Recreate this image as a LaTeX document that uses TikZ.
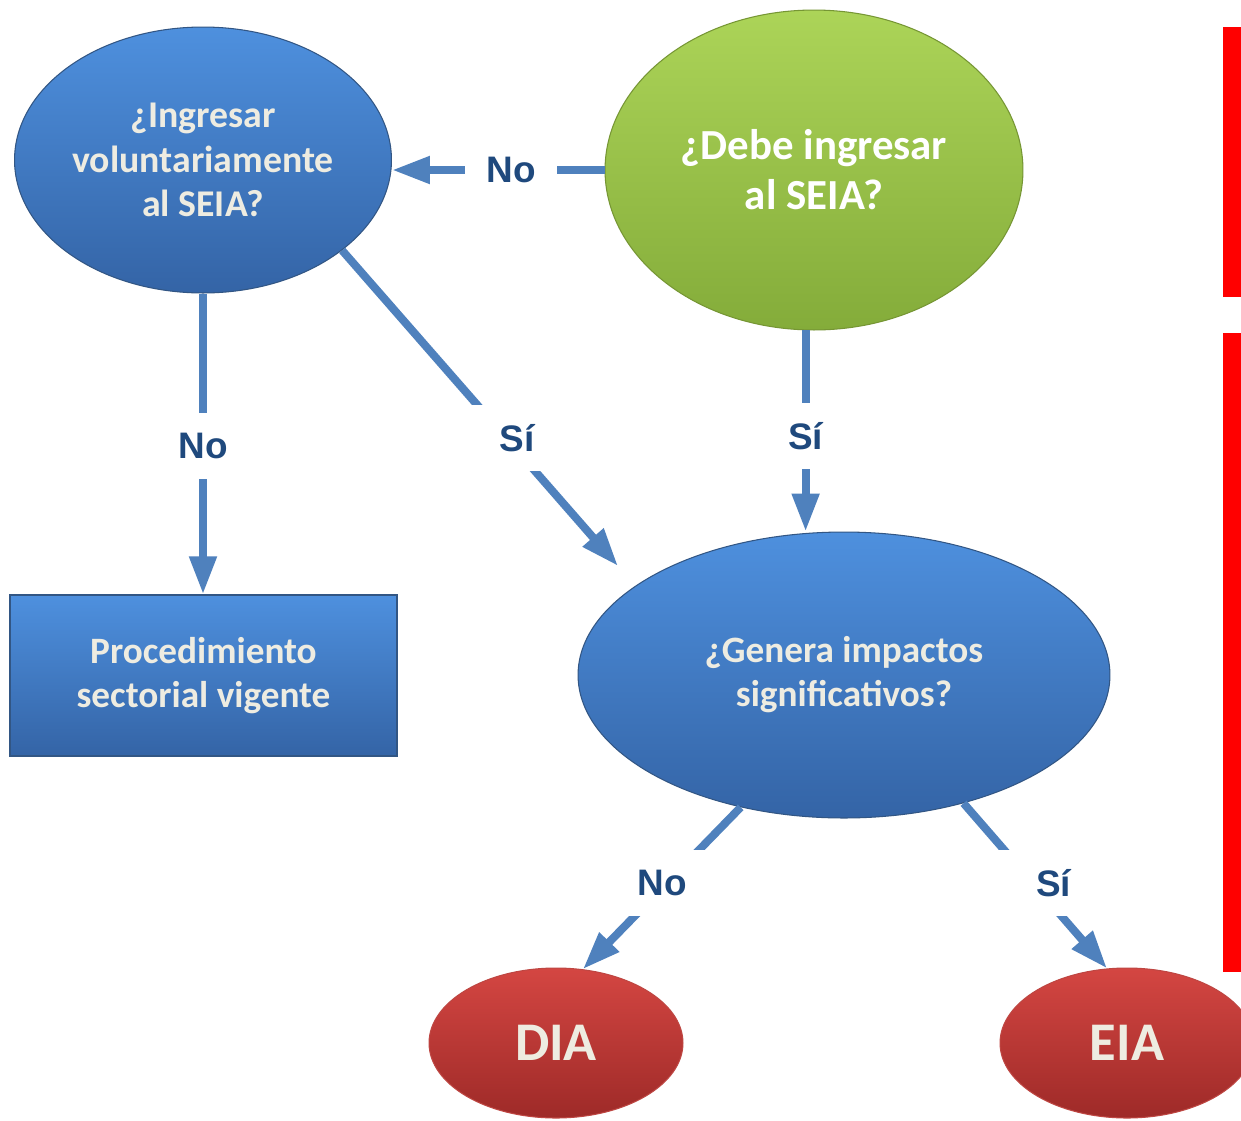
\documentclass[tikz,border=0pt]{standalone}
\usepackage{fontspec}
\setmainfont{Carlito}
\newfontfamily\answerfont{Liberation Sans}
\usetikzlibrary{shapes.geometric, arrows.meta}

\definecolor{ovalBlueTop}{RGB}{78,144,222}
\definecolor{ovalBlueBottom}{RGB}{52,100,166}
\definecolor{ovalBlueEdge}{RGB}{50,86,132}
\definecolor{ovalGreenTop}{RGB}{172,212,88}
\definecolor{ovalGreenBottom}{RGB}{132,172,58}
\definecolor{ovalGreenEdge}{RGB}{118,150,52}
\definecolor{ovalRedTop}{RGB}{212,70,66}
\definecolor{ovalRedBottom}{RGB}{158,42,40}
\definecolor{ovalRedEdge}{RGB}{190,70,66}
\definecolor{paleText}{RGB}{238,236,225}
\definecolor{flowBlue}{RGB}{79,129,189}
\definecolor{answerBlue}{RGB}{31,73,125}

\begin{document}
\begin{tikzpicture}[x=0.02cm, y=-0.02cm]
        \tikzset{
            ovalText/.style={
                font=\bfseries\fontsize{21.5}{25.5}\selectfont,
                text=paleText,
                align=center,
                inner sep=0pt
            },
            blueOval/.style={ellipse, ovalText, top color=ovalBlueTop, bottom color=ovalBlueBottom, draw=ovalBlueEdge, line width=0.6pt},
            greenOval/.style={ellipse, ovalText, text=white, top color=ovalGreenTop, bottom color=ovalGreenBottom, draw=ovalGreenEdge, line width=0.6pt},
            redOval/.style={ellipse, ovalText, font=\bfseries\fontsize{31}{36}\selectfont, top color=ovalRedTop, bottom color=ovalRedBottom, draw=ovalRedEdge, line width=0.6pt},
            blueBox/.style={rectangle, ovalText, top color=ovalBlueTop, bottom color=ovalBlueBottom, draw=ovalBlueEdge, line width=0.8pt},
            flow/.style={draw=flowBlue, line width=0.16cm, -{Triangle[length=0.76cm, width=0.52cm]}},
            answer/.style={
                font=\answerfont\bfseries\fontsize{21}{25}\selectfont,
                text=answerBlue,
                fill=white,
                inner sep=0pt,
                minimum width=1.84cm,
                minimum height=1.32cm
            },
            wideAnswer/.style={answer, minimum width=2.8cm}
        }

        \useasboundingbox[fill=white] (0,0) rectangle (1241,1120);

        \node[blueOval, minimum width=7.54cm, minimum height=5.32cm] (voluntaryQ) at (203,160) {¿Ingresar\\voluntariamente\\al SEIA?};
        \node[greenOval, minimum width=8.36cm, minimum height=6.4cm, font=\bfseries\fontsize{24.4}{28.5}\selectfont] (mustQ) at (814,170) {¿Debe ingresar\\al SEIA?};
        \node[blueOval, minimum width=10.64cm, minimum height=5.72cm, font=\bfseries\fontsize{21.2}{25}\selectfont] (impactQ) at (844,675) {¿Genera impactos\\significativos?};
        \node[blueBox, minimum width=7.74cm, minimum height=3.22cm, font=\bfseries\fontsize{21.2}{25}\selectfont] (sectorBox) at (203.5,675.5) {Procedimiento\\sectorial vigente};
        \node[redOval, minimum width=5.08cm, minimum height=3.0cm] (diaNode) at (556,1043) {DIA};
        \node[redOval, minimum width=5.08cm, minimum height=3.0cm] (eiaNode) at (1127,1043) {EIA};

        \coordinate (impactEntry) at (618,566);

        \draw[flow] (mustQ.west) -- node[answer, pos=.44] {No} (mustQ.west -| voluntaryQ.east);
        \draw[flow] (voluntaryQ.south) -- node[answer, pos=.507] {No} (voluntaryQ.south |- sectorBox.north);
        \draw[flow] (voluntaryQ.-33) -- node[wideAnswer, pos=.595, xshift=0.22cm] {Sí} (impactEntry);
        \draw[flow] (mustQ.-93) -- node[answer, pos=.525] {Sí} (mustQ.-93 |- impactQ.north);
        \draw[flow] (impactQ.-128) -- node[wideAnswer, pos=.466, xshift=-0.1cm] {No} (diaNode.70);
        \draw[flow] (impactQ.-47) -- node[wideAnswer, pos=.482, xshift=0.42cm] {Sí} (eiaNode.105);

        \fill[red] (1223,27) rectangle (1241,297);
        \fill[red] (1223,333) rectangle (1241,972);
    \end{tikzpicture}
\end{document}
